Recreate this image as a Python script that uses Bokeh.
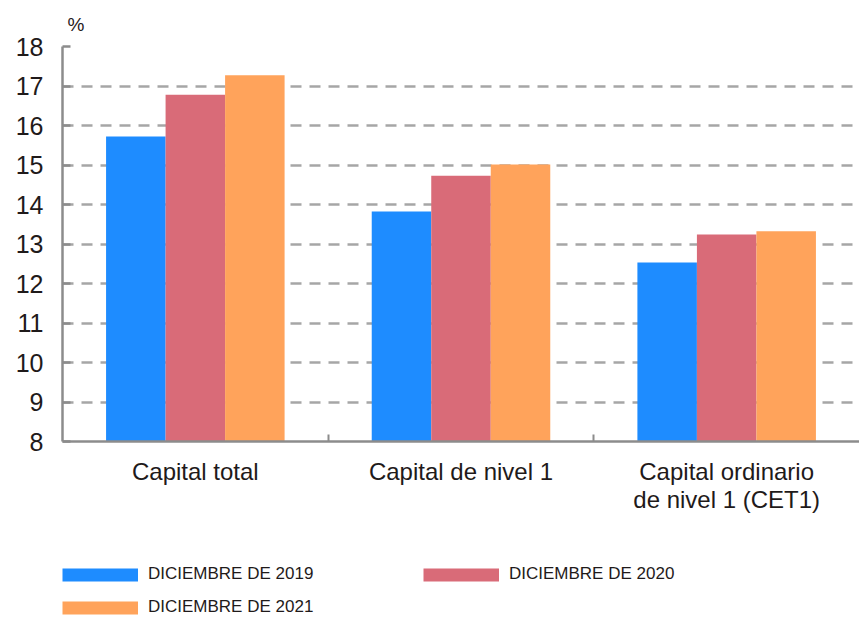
from bokeh.plotting import figure
from bokeh.layouts import column
from bokeh.models import (Range1d, FixedTicker, Legend, LegendItem,
                          ColumnDataSource)
from bokeh.embed import file_html
from bokeh.resources import INLINE

categories = ["Capital total", "Capital de nivel 1", "Capital ordinario\nde nivel 1 (CET1)"]
series_names = ["DICIEMBRE DE 2019", "DICIEMBRE DE 2020", "DICIEMBRE DE 2021"]
dic_2019 = [15.72, 13.82, 12.53]
dic_2020 = [16.78, 14.73, 13.24]
dic_2021 = [17.27, 15.01, 13.32]
y_ticks = [8, 9, 10, 11, 12, 13, 14, 15, 16, 17, 18]
colors = ["#1e8cff", "#d96b78", "#ffa35b"]

FONT = "Liberation Sans"
TXT = "#1f1a1a"
AX = "#8c8c8c"

p = figure(width=859, height=540, output_backend="svg", toolbar_location=None,
           x_range=Range1d(0, len(categories)), y_range=Range1d(8, 18),
           min_border_left=62, min_border_right=0, min_border_top=46,
           min_border_bottom=99)
p.outline_line_color = None
p.xgrid.visible = False
p.ygrid.grid_line_color = "#a6a6a6"
p.ygrid.grid_line_width = 2.5
p.ygrid.grid_line_dash = "11 8"

p.title.text = "%"
p.title.align = "left"
p.title.offset = 5
p.title.standoff = 23
p.title.text_font = FONT
p.title.text_font_size = "19px"
p.title.text_font_style = "normal"
p.title.text_color = TXT

bar_w = 0.224
series = [dic_2019, dic_2020, dic_2021]
for j, vals in enumerate(series):
    src = ColumnDataSource(dict(x=[i + 0.5 + (j - 1) * bar_w for i in range(len(categories))],
                                top=vals))
    p.vbar(x="x", top="top", bottom=8, width=bar_w, source=src,
           fill_color=colors[j], line_color=None)

# y axis
p.yaxis.ticker = FixedTicker(ticks=y_ticks)
p.yaxis.axis_line_color = AX
p.yaxis.axis_line_width = 2.5
p.yaxis.major_tick_line_color = AX
p.yaxis.major_tick_line_width = 2.5
p.yaxis.major_tick_in = 8
p.yaxis.major_tick_out = 0
p.yaxis.minor_tick_line_color = None
p.yaxis.major_label_text_font = FONT
p.yaxis.major_label_text_font_size = "25px"
p.yaxis.major_label_text_color = TXT
p.yaxis.major_label_standoff = 19

# x axis
centers = [i + 0.5 for i in range(len(categories))]
bounds = [i for i in range(1, len(categories))]
p.xaxis.ticker = FixedTicker(ticks=centers, minor_ticks=bounds)
p.xaxis.major_label_overrides = {c: lab for c, lab in zip(centers, categories)}
p.xaxis.axis_line_color = AX
p.xaxis.axis_line_width = 2.5
p.xaxis.major_tick_line_color = None
p.xaxis.major_tick_in = 0
p.xaxis.major_tick_out = 0
p.xaxis.minor_tick_line_color = AX
p.xaxis.minor_tick_line_width = 2
p.xaxis.minor_tick_in = 7
p.xaxis.minor_tick_out = 0
p.xaxis.major_label_text_font = FONT
p.xaxis.major_label_text_font_size = "24px"
p.xaxis.major_label_text_color = TXT
p.xaxis.major_label_standoff = 16
p.xaxis.major_label_text_line_height = 1.05

# legend figure (frame left is aligned with the chart's frame by the column)
lg = figure(width=859, height=78, output_backend="svg", toolbar_location=None,
            x_range=Range1d(0, 1), y_range=Range1d(0, 1),
            min_border_left=0, min_border_right=0, min_border_top=0,
            min_border_bottom=0)
lg.outline_line_color = None
lg.axis.visible = False
lg.grid.visible = False
items = []
for j, name in enumerate(series_names):
    r = lg.line(x=[5, 6], y=[5, 5], line_color=colors[j], line_width=13,
                line_cap="butt")
    items.append(LegendItem(label=name, renderers=[r]))

legend = Legend(items=items, orientation="horizontal", ncols=2,
                location=(0, 1), padding=0, margin=0,
                border_line_color=None, background_fill_alpha=0,
                glyph_width=76, glyph_height=15, label_width=262,
                label_height=20, label_standoff=10, spacing=13,
                label_text_font=FONT,
                label_text_font_size="17px", label_text_color=TXT)
lg.add_layout(legend, "center")

layout = column(p, lg, spacing=0)
open("out.html", "w").write(file_html(layout, INLINE))
